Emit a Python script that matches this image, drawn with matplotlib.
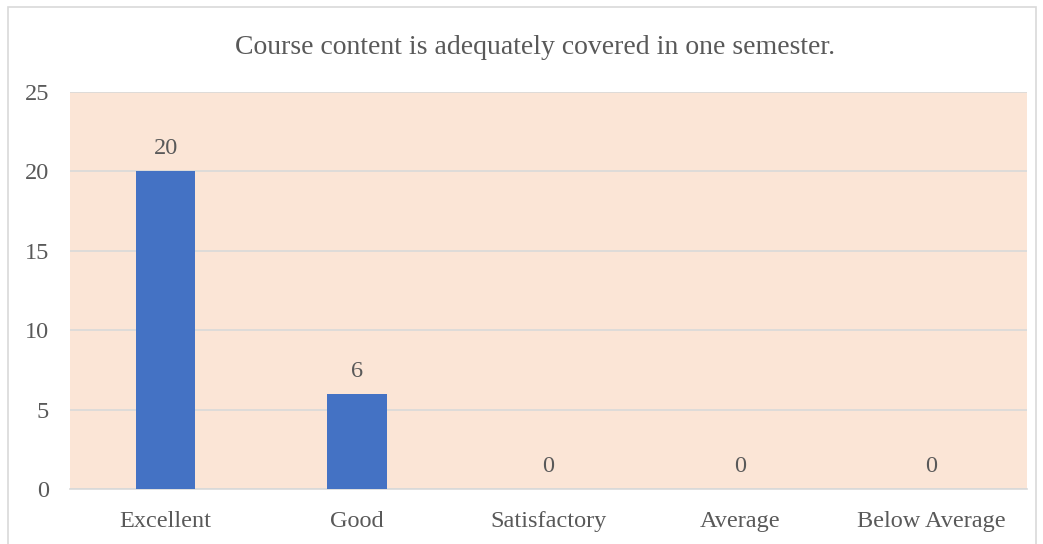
import matplotlib
matplotlib.use("Agg")
from matplotlib import pyplot as plt
from matplotlib.patches import Rectangle

categories = ["Excellent", "Good", "Satisfactory", "Average", "Below Average"]
counts = [20, 6, 0, 0, 0]
yticks = [0, 5, 10, 15, 20, 25]
title = "Course content is adequately covered in one semester."

plt.rcParams['font.family'] = ['Liberation Serif', 'DejaVu Serif']
text_color = '#595959'

fig = plt.figure(figsize=(10.43, 5.44), dpi=100)
fig.patch.set_facecolor('white')
# outer chart border
fig.patches.append(Rectangle((8 / 1043, -0.05), (1036 - 8) / 1043, 1 - 7 / 544 + 0.05,
                             transform=fig.transFigure, fill=False,
                             edgecolor='#D9D9D9', linewidth=1.2))

ax = fig.add_axes([70 / 1043, 1 - 489 / 544, (1027 - 70) / 1043, (489 - 92) / 544])
ax.set_facecolor('#FBE5D6')

x = range(len(categories))
ax.bar(x, counts, width=0.31, color='#4472C4', zorder=3)
for xi, v in zip(x, counts):
    ax.text(xi, v + 0.75, str(v), ha='center', va='bottom', fontsize=17.5, color=text_color)

ax.set_xlim(-0.5, len(categories) - 0.5)
ax.set_ylim(0, 25)
ax.set_yticks(yticks)
ax.set_xticks(list(x))
ax.set_xticklabels(categories)
ax.grid(axis='y', color='#D9D9D9', linewidth=1.2, zorder=0)
ax.tick_params(length=0, labelsize=17.5, labelcolor=text_color)
ax.tick_params(axis='y', pad=15)
ax.tick_params(axis='x', pad=15.5)
for side in ['top', 'right', 'left']:
    ax.spines[side].set_visible(False)
ax.spines['bottom'].set_color('#D9D9D9')
ax.spines['bottom'].set_linewidth(1.2)

fig.text(535 / 1043, 1 - 48 / 544, title, ha='center', va='center', fontsize=20, color=text_color)

plt.savefig('out.png', dpi=100)
